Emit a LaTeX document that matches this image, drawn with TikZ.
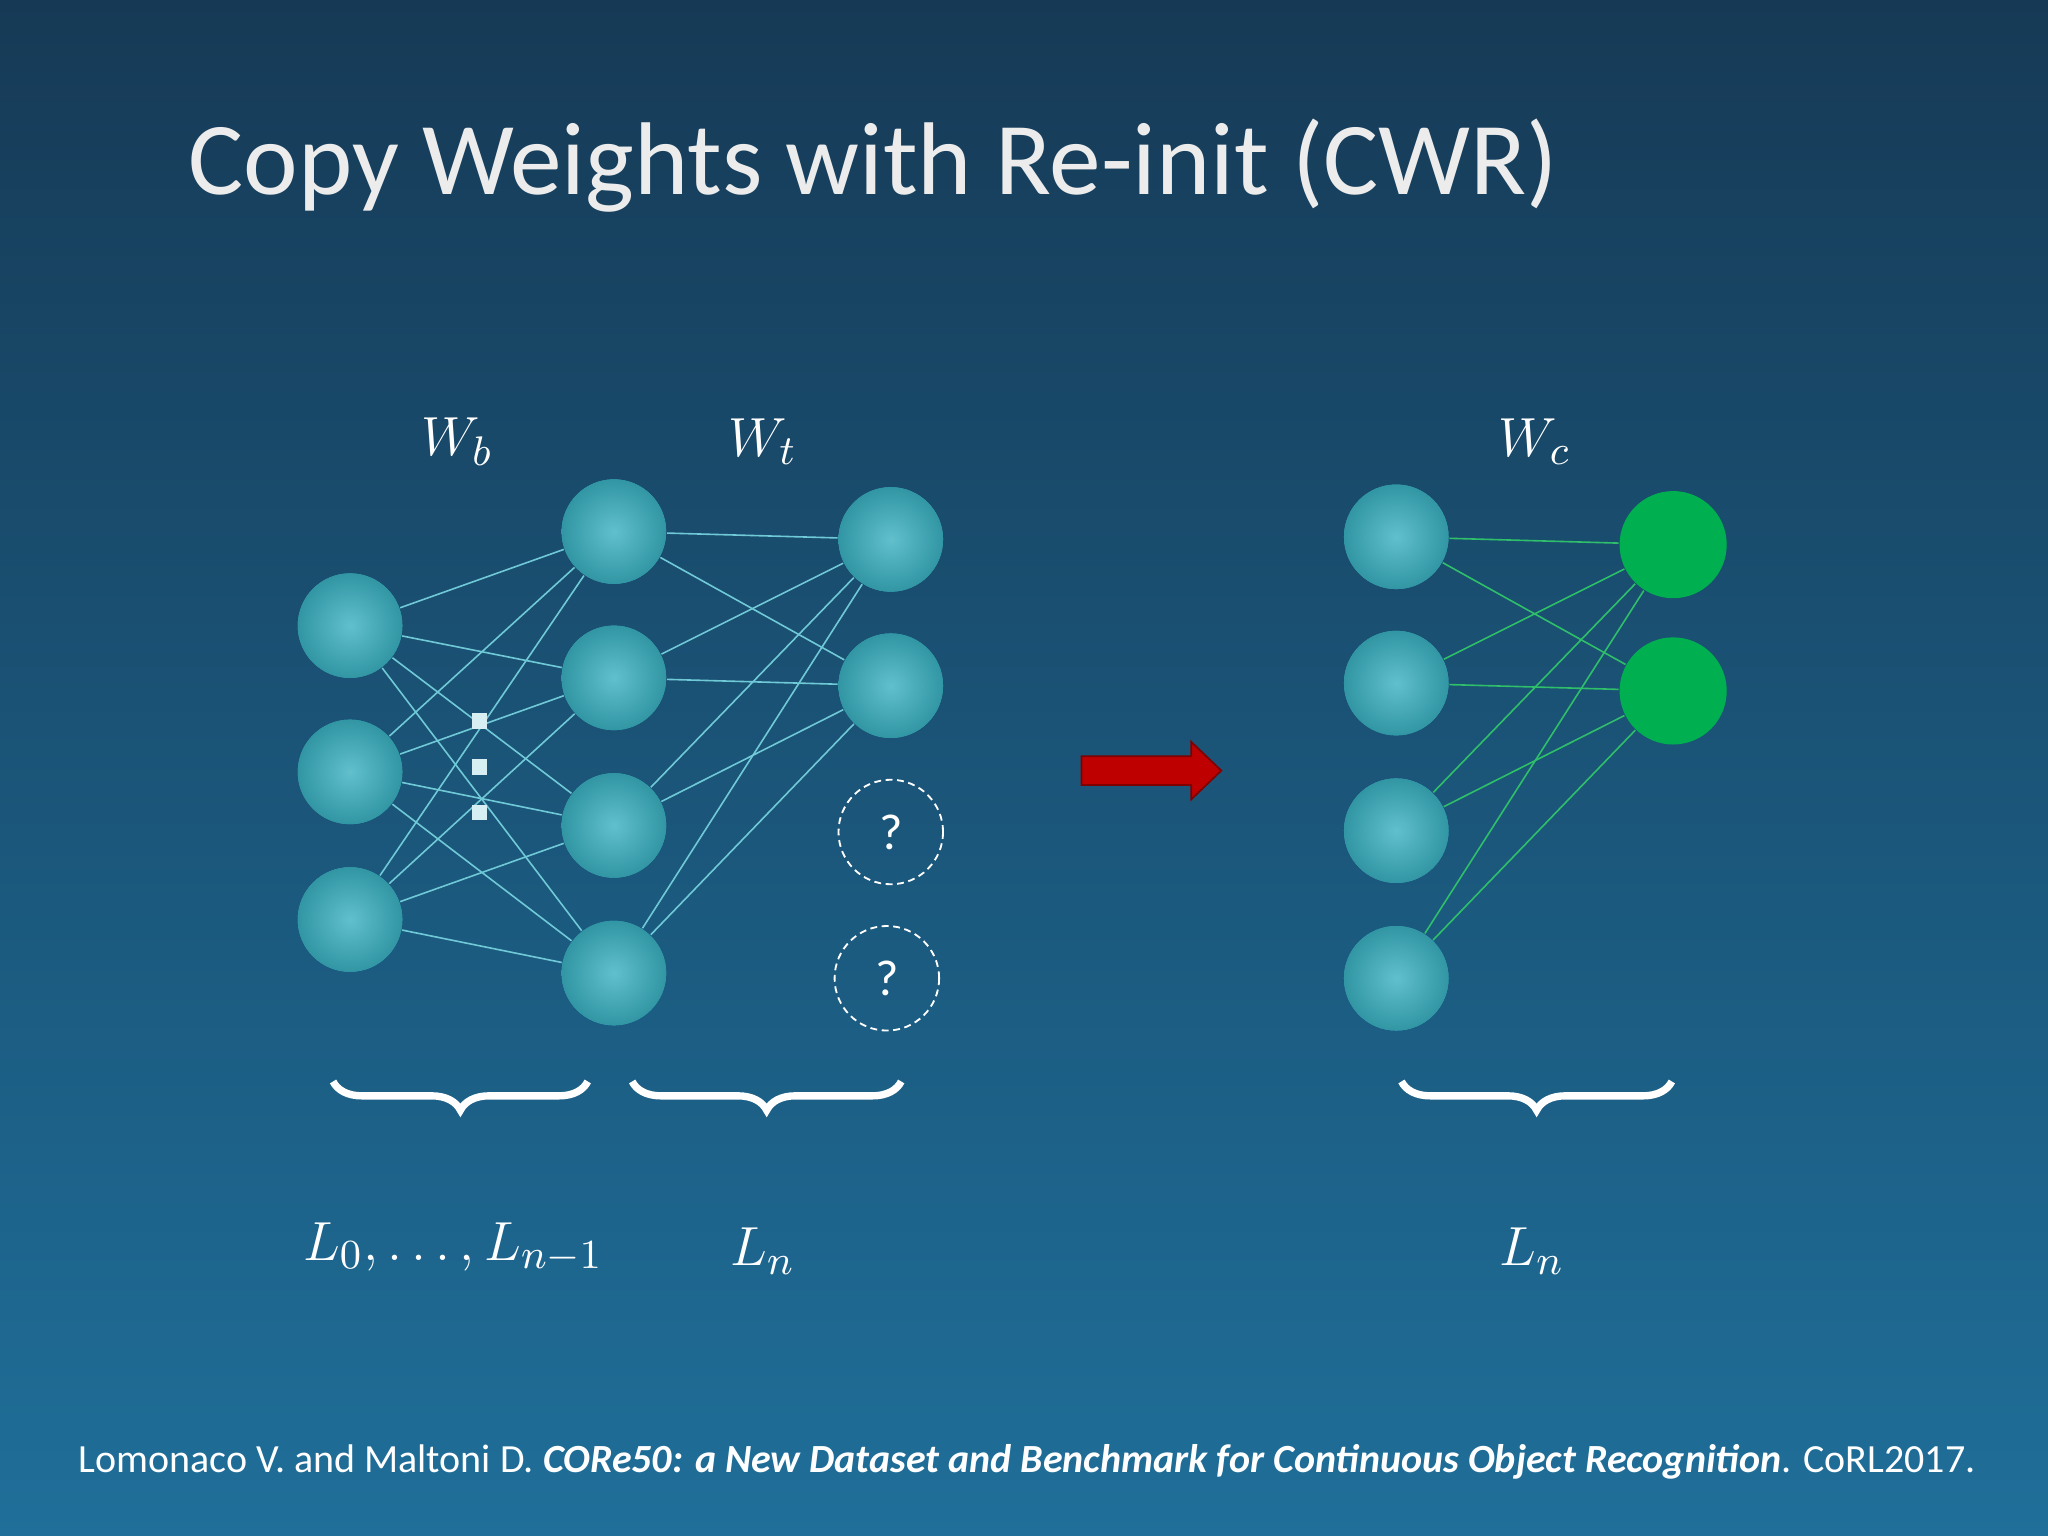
\documentclass[tikz,border=0pt]{standalone}
\usepackage{fontspec}
\setmainfont{Carlito}
\usetikzlibrary{decorations.pathreplacing}
\definecolor{topc}{HTML}{163A56}
\definecolor{botc}{HTML}{1F6F9A}
\definecolor{ball}{HTML}{3AB0C0}
\definecolor{gball}{HTML}{00B050}
\definecolor{lnk}{HTML}{6FC9D6}
\definecolor{glnk}{HTML}{2FBF6A}
\begin{document}
\begin{tikzpicture}[x=0.01cm,y=-0.01cm,
  neur/.style={circle,minimum size=0.8cm,inner sep=0,fill=ball,draw=none,
     shading=radial,inner color=ball!80!white,outer color=ball!85!black},
  gneur/.style={circle,minimum size=0.82cm,inner sep=0,fill=gball},
  qn/.style={circle,minimum size=0.8cm,inner sep=0,draw=white,dash pattern=on 1.5pt off 1pt,line width=0.4pt,text=white,font=\fontsize{11}{11}\selectfont},
  lk/.style={draw=lnk,line width=0.35pt},
  gl/.style={draw=glnk,line width=0.35pt},
  br/.style={white,line width=1.6pt,decorate,decoration={brace,amplitude=0.22cm}},
  lab/.style={text=white,font=\fontsize{12.5}{13}\selectfont}]
\shade[top color=topc,bottom color=botc] (0,0) rectangle (1568,1176);
\useasboundingbox (0,0) rectangle (1568,1176);
\node[anchor=west,text=white!85!gray,font=\fontsize{22.5}{23}\selectfont] (title) at (132,127) {Copy Weights with Re-init (CWR)};
% nodes
\foreach \i/\y in {1/479,2/591,3/704} \node[neur] (a\i) at (268,\y) {};
\foreach \i/\y in {1/407,2/519,3/632,4/745} \node[neur] (b\i) at (470,\y) {};
\node[neur] (c1) at (682,413) {};
\node[neur] (c2) at (682,525) {};
\node[qn] (q1) at (682,637) {?};
\node[qn] (q2) at (679,749) {?};
\foreach \i/\y in {1/411,2/523,3/636,4/749} \node[neur] (d\i) at (1069,\y) {};
\node[gneur] (e1) at (1281,417) {};
\node[gneur] (e2) at (1281,529) {};
\foreach \i in {1,2,3} \foreach \j in {1,2,3,4} \draw[lk] (a\i) -- (b\j);
\foreach \i in {1,2,3,4} \foreach \j in {1,2} \draw[lk] (b\i) -- (c\j);
\foreach \i in {1,2,3,4} \foreach \j in {1,2} \draw[gl] (d\i) -- (e\j);
\foreach \y in {552,587,622} \fill[white!80!ball] (361,\y-6) rectangle (373,\y+6);
% arrow
\fill[red!75!black,draw=red!50!black,line width=0.4pt] (828,579) -- (912,579) -- (912,568) -- (935,590) -- (912,612) -- (912,601) -- (828,601) -- cycle;
% labels
\node[lab] (wb) at (350,338) {$W_b$};
\node[lab] (wt) at (584,338) {$W_t$};
\node[lab] (wc) at (1175,338) {$W_c$};
\node[lab] (l1) at (347,955) {$L_0,\ldots,L_{n-1}$};
\node[lab] (l2) at (584,958) {$L_n$};
\node[lab] (l3) at (1173,958) {$L_n$};
\draw[br] (450,828) -- (255,828);
\draw[br] (690,828) -- (484,828);
\draw[br] (1280,828) -- (1073,828);
\node[anchor=west,text=white,font=\fontsize{8.7}{9}\selectfont] (cite) at (48,1119) {Lomonaco V. and Maltoni D. \textbf{\textit{CORe50: a New Dataset and Benchmark for Continuous Object Recognition}}. CoRL2017.};
\end{tikzpicture}
\end{document}
